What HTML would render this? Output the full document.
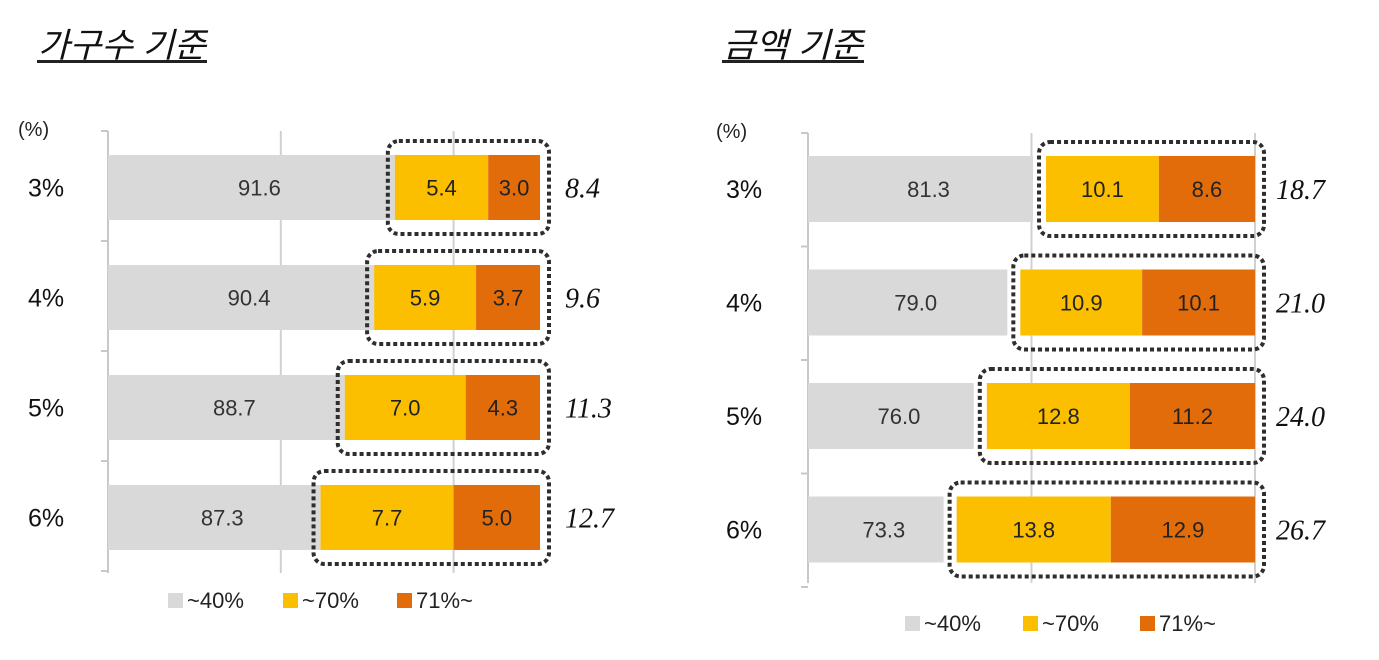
<!DOCTYPE html>
<html><head><meta charset="utf-8"><style>
html,body{margin:0;padding:0;background:#fff;}
svg{display:block;font-family:"Liberation Sans","Noto Sans CJK KR",sans-serif;}
</style></head><body>
<svg id="c" width="1379" height="660" viewBox="0 0 1379 660" xmlns="http://www.w3.org/2000/svg">
<text x="38" y="57" font-size="34" font-style="italic" textLength="168" lengthAdjust="spacingAndGlyphs" fill="#111">가구수 기준</text>
<rect x="37" y="60" width="170" height="3" fill="#222"/>
<text x="723" y="57" font-size="34" font-style="italic" textLength="140" lengthAdjust="spacingAndGlyphs" fill="#111">금액 기준</text>
<rect x="722" y="60" width="142" height="3" fill="#222"/>
</svg>
<script>
const categories = ["3%","4%","5%","6%"];
const leftLow = [91.6,90.4,88.7,87.3];
const leftMid = [5.4,5.9,7.0,7.7];
const leftHigh = [3.0,3.7,4.3,5.0];
const rightLow = [81.3,79.0,76.0,73.3];
const rightMid = [10.1,10.9,12.8,13.8];
const rightHigh = [8.6,10.1,11.2,12.9];
const legendLabels = ["~40%","~70%","71%~"];
const leftGrid = [85,95];
const rightGrid = [80,100];

const svg = document.getElementById('c');
const NS = 'http://www.w3.org/2000/svg';
function mk(tag, attrs, parent){
  const e = document.createElementNS(NS, tag);
  for (const k in attrs) e.setAttribute(k, attrs[k]);
  (parent||svg).appendChild(e);
  return e;
}
const colors = ['#d9d9d9','#fcbf00','#e36c0a'];

function panel(cfg){
  const sx = v => cfg.x0 + (v - cfg.min) / (cfg.max - cfg.min) * (cfg.x1 - cfg.x0);
  const g = mk('g', {});
  
  
  const pct = mk('text', {x: cfg.pctX, y: cfg.pctY, 'font-size': 20, fill: '#222'}, g);
  pct.textContent = '(%)';
  
  
  cfg.grid.forEach(v => {
    const l = mk('line', {x1: sx(v), x2: sx(v), y1: cfg.axTop, y2: cfg.axBot, stroke: '#d0d0d0', 'stroke-width': 2}, g);
    
    
  });
  const ax = mk('line', {x1: cfg.x0, x2: cfg.x0, y1: cfg.axTop, y2: cfg.axBot, stroke: '#c8c8c8', 'stroke-width': 2}, g);
  
  
  for (let i = 0; i <= categories.length; i++) {
    const y = cfg.axTop + i * cfg.step;
    const t = mk('line', {x1: cfg.x0 - 7, x2: cfg.x0, y1: y, y2: y, stroke: '#c8c8c8', 'stroke-width': 2}, g);
    
    
  }
  categories.forEach((c, i) => {
    const top = cfg.barTop + i * cfg.step, h = cfg.barH, cy = top + h / 2;
    const lab = mk('text', {x: cfg.catX, y: cy + 9, 'font-size': 25, fill: '#111'}, g);
    lab.textContent = c;
    
    
    const low = cfg.low[i], mid = cfg.mid[i], high = cfg.high[i];
    const segs = [[cfg.min, low], [low, low + mid], [low + mid, low + mid + high]];
    const vals = [low, mid, high];
    const names = ['bar-low', 'bar-mid', 'bar-high'];
    segs.forEach((s, k) => {
      let xa = sx(s[0]), xb = sx(s[1]);
      if (k === 0) xb -= cfg.gap;
      const r = mk('rect', {x: xa, y: top, width: Math.max(0, xb - xa), height: h, fill: colors[k]}, g);
      
      
      const cx = k === 0 ? (xa + xb) / 2 + 8 : (xa + xb) / 2;
      const tv = mk('text', {x: cx, y: cy + 8, 'font-size': 22, fill: k === 0 ? '#333' : '#222', 'text-anchor': 'middle'}, g);
      tv.textContent = vals[k].toFixed(1);
      
      
    });
    const bx = sx(low) - 7, bw = cfg.x1 + 9 - bx;
    const box = mk('rect', {x: bx, y: top - 14, width: bw, height: h + 28, rx: 11, fill: 'none', stroke: '#2e2e2e', 'stroke-width': 4, 'stroke-dasharray': '4 3'}, g);
    
    
    const tot = mk('text', {x: cfg.totX, y: cy + 10, 'font-size': 28, 'font-style': 'italic', fill: '#111', 'font-family': 'Liberation Serif, serif'}, g);
    tot.textContent = (mid + high).toFixed(1);
    
    
  });
  legendLabels.forEach((l, k) => {
    const lx = cfg.legX[k];
    const sq = mk('rect', {x: lx, y: cfg.legY - 7, width: 15, height: 15, fill: colors[k]}, g);
    
    
    const lt = mk('text', {x: lx + 19, y: cfg.legY + 8, 'font-size': 22, fill: '#222'}, g);
    lt.textContent = l;
    
    
  });
}

panel({name: 'left-chart', x0: 108, x1: 540, min: 75, max: 100, grid: leftGrid,
  axTop: 131, axBot: 573, step: 110, barTop: 155, barH: 65, gap: 0,
  low: leftLow, mid: leftMid, high: leftHigh, catX: 28, totX: 565,
  pctX: 18, pctY: 136, legX: [168, 283, 397], legY: 600});
panel({name: 'right-chart', x0: 808, x1: 1255, min: 60, max: 100, grid: rightGrid,
  axTop: 133, axBot: 583, step: 113.5, barTop: 156, barH: 66, gap: 13,
  low: rightLow, mid: rightMid, high: rightHigh, catX: 726, totX: 1276,
  pctX: 716, pctY: 138, legX: [905, 1023, 1140], legY: 623});
</script>
</body></html>
